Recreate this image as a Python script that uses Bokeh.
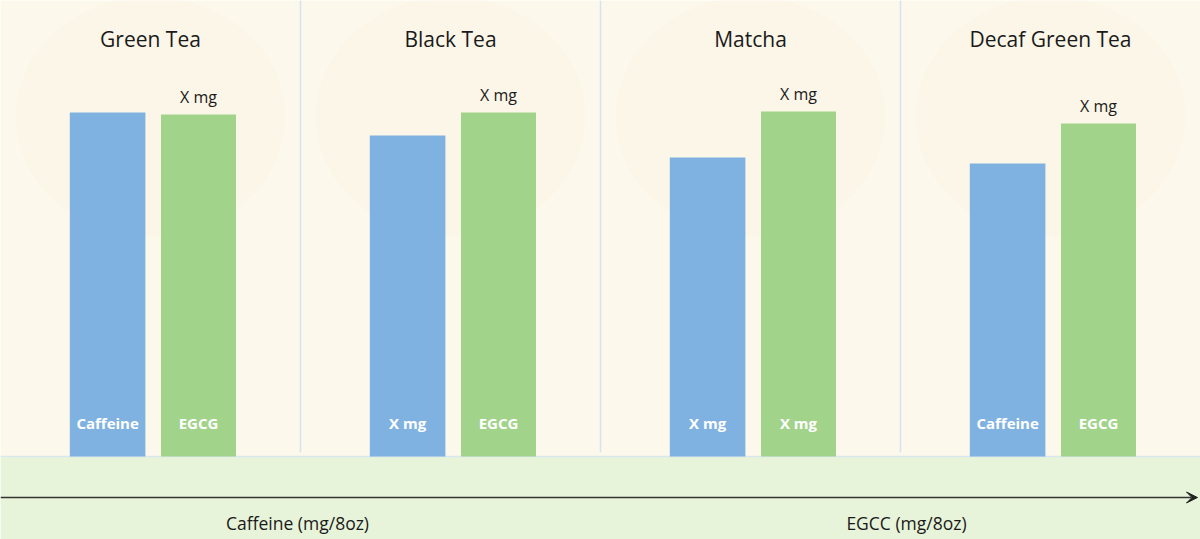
from bokeh.plotting import figure
from bokeh.models import Range1d, Arrow, VeeHead, ColumnDataSource
from bokeh.core.properties import value
from bokeh.embed import file_html
from bokeh.resources import INLINE

# ---- data ----
teas = ["Green Tea", "Black Tea", "Matcha", "Decaf Green Tea"]
caffeine = [344, 321, 299, 293]
egcg = [342, 344, 345, 333]
caffeine_labels = ["Caffeine", "X mg", "X mg", "Caffeine"]
egcg_labels = ["EGCG", "EGCG", "X mg", "EGCG"]
top_labels = ["X mg", "X mg", "X mg", "X mg"]
axis_labels = ["Caffeine (mg/8oz)", "EGCC (mg/8oz)"]

FONT = value("Open Sans")
W, H = 1200, 539
n = len(teas)
idx = list(range(n))

p = figure(width=W, height=H, output_backend="svg", toolbar_location=None,
           x_range=Range1d(0, n), y_range=Range1d(-83, 456),
           min_border=0, min_border_left=0, min_border_right=0,
           min_border_top=0, min_border_bottom=0)
p.axis.visible = False
p.grid.visible = False
p.outline_line_color = None
p.background_fill_color = "#fcf9ec"
p.border_fill_color = "#fcf9ec"

# very faint warm glow
p.ellipse(x=[0.5, 1.5, 2.5, 3.5], y=[340, 340, 340, 340],
          width=[0.9, 0.9, 0.9, 0.9], height=[240, 240, 240, 240],
          fill_color="#f7e3c4", fill_alpha=0.12, line_color=None)

# panel separators
p.segment(x0=idx[1:], y0=[4] * (n - 1), x1=idx[1:], y1=[456] * (n - 1),
          line_color="#d5e3f3", line_width=1.5)

# bottom band
p.quad(left=[0], right=[n], bottom=[-83], top=[0], fill_color="#e7f4d9", line_color=None)
p.segment(x0=[0], y0=[0], x1=[n], y1=[0], line_color="#dbe7ee", line_width=1.5)

src = ColumnDataSource(dict(
    xb=[i + 0.357 for i in idx], xg=[i + 0.66 for i in idx],
    caf=caffeine, egcg=egcg,
    cl=caffeine_labels, el=egcg_labels, tl=top_labels,
    ty=[e + 18 for e in egcg], in_y=[34] * n,
))

p.vbar(x="xb", top="caf", bottom=0, width=0.252, source=src,
       fill_color="#7fb2e1", line_color=None)
p.vbar(x="xg", top="egcg", bottom=0, width=0.25, source=src,
       fill_color="#a2d38a", line_color=None)

p.text(x=[i + 0.5 for i in idx], y=[418] * n, text=teas, text_align="center",
       text_baseline="middle", text_font=FONT, text_font_size="21px", text_color="#1a1a1a")

p.text(x="xg", y="ty", text="tl", source=src, text_align="center", text_baseline="middle",
       text_font=FONT, text_font_size="16px", text_color="#1a1a1a")
p.text(x="xb", y="in_y", text="cl", source=src, text_align="center", text_baseline="middle",
       text_font=FONT, text_font_size="15px", text_font_style="bold", text_color="#ffffff")
p.text(x="xg", y="in_y", text="el", source=src, text_align="center", text_baseline="middle",
       text_font=FONT, text_font_size="15px", text_font_style="bold", text_color="#ffffff")

# arrow axis
p.add_layout(Arrow(end=VeeHead(size=11, fill_color="#222222", line_color="#222222"),
                   x_start=0, y_start=-41, x_end=3.99, y_end=-41,
                   line_color="#333333", line_width=1.5))
p.text(x=[0.99, 3.02], y=[-66, -66], text=axis_labels, text_align="center",
       text_baseline="middle", text_font=FONT, text_font_size="17.5px", text_color="#1a1a1a")

open("out.html", "w").write(file_html(p, INLINE))
